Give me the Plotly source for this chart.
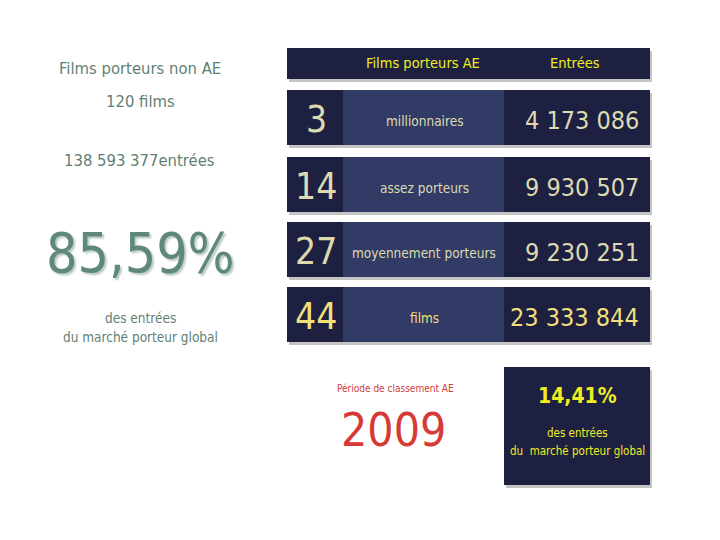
import plotly.graph_objects as go

# rows of the AE table
counts = ["3", "14", "27", "44"]
labels = ["millionnaires", "assez porteurs", "moyennement porteurs", "films"]
entrees = ["4 173 086", "9 930 507", "9 230 251", "23 333 844"]
row_top = [90, 157, 222, 287]

non_ae_titre = "Films porteurs non AE"
non_ae_films = "120 films"
non_ae_entrees = "138 593 377entrées"
non_ae_part = "85,59%"
ae_part = "14,41%"
annee = "2009"

FONT = "DejaVu Sans Condensed, sans-serif"
NAVY = "#1e2041"
MID = "#323a66"
CREAM = "#dcdab0"
GOLD = "#f2df7a"
YEL = "#eeee22"
GREEN = "#5f7f74"

fig = go.Figure()
shapes = []
ann = []


def box(x0, y0, x1, y1, color, shadow=True):
    if shadow:
        shapes.append(dict(type="rect", x0=x0 + 2, y0=y0 + 3, x1=x1 + 2, y1=y1 + 3,
                           fillcolor="#c4c4c4", line_width=0, layer="below"))
    shapes.append(dict(type="rect", x0=x0, y0=y0, x1=x1, y1=y1,
                       fillcolor=color, line_width=0, layer="below"))


def txt(x, y, s, size, color, bold=False, shadow=None, **kw):
    if bold:
        s = "<b>" + s + "</b>"
    f = dict(family=FONT, size=size, color=color)
    if shadow:
        f["shadow"] = shadow
    ann.append(dict(x=x, y=y, text=s, showarrow=False, xref="x", yref="y",
                    font=f, **kw))


# header
box(287, 48, 650, 79, NAVY)
txt(423, 63, "Films porteurs AE", 14.5, YEL)
txt(575, 63, "Entrées", 14.5, YEL)

for i, (c, l, e, t) in enumerate(zip(counts, labels, entrees, row_top)):
    b = t + 55
    box(287, t, 650, b, NAVY)
    shapes.append(dict(type="rect", x0=343, y0=t, x1=504, y1=b,
                       fillcolor=MID, line_width=0, layer="below"))
    col = GOLD if i == len(counts) - 1 else CREAM
    txt(316, t + 29, c, 37, col)
    txt(424, t + 31, l, 13.5, col)
    txt(641, t + 30, e, 25, col, xanchor="right")

# left side summary
txt(140, 68, non_ae_titre, 16.5, GREEN)
txt(140, 101, non_ae_films, 16.5, GREEN)
txt(139, 160, non_ae_entrees, 16.5, GREEN)
txt(140, 253, non_ae_part, 55, "#5e8878", shadow="2px 2px 2px #b9c9c2")
txt(140, 318, "des entrées", 13.5, GREEN)
txt(140, 337, "du marché porteur global", 13.5, GREEN)

# bottom
txt(395, 388, "Période de classement AE", 10, "#cc3d3d")
txt(393, 430, annee, 46, "#d63a36")
box(504, 367, 650, 485, NAVY)
txt(577, 396, ae_part, 21, YEL, bold=True)
txt(577, 433, "des entrées", 11.5, YEL)
txt(577, 451, "du  marché porteur global", 11.5, YEL)

fig.update_layout(
    width=720, height=540,
    margin=dict(l=0, r=0, t=0, b=0),
    paper_bgcolor="white", plot_bgcolor="white",
    # the page body has an 8px margin, so shift the ranges to compensate
    xaxis=dict(range=[8, 728], visible=False, fixedrange=True),
    yaxis=dict(range=[548, 8], visible=False, fixedrange=True),
    shapes=shapes, annotations=ann, showlegend=False,
)
fig.write_html("out.html", config={"displayModeBar": False})
